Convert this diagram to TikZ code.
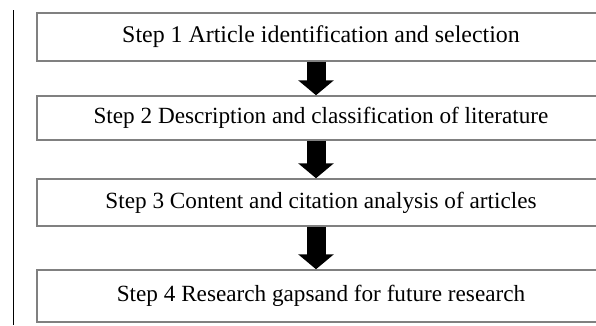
\documentclass[tikz,border=0pt]{standalone}
\usepackage{fontspec}
\setmainfont{Liberation Serif}
\usetikzlibrary{arrows.meta}

\tikzset{
  stepbox/.style={draw=black!50, line width=1.5pt, minimum width=568pt, inner sep=0pt,
    font=\fontsize{23.2}{26}\selectfont},
  downarrow/.style={line width=19pt, -{Triangle[length=15pt,width=35pt]}}
}

\begin{document}
\begin{tikzpicture}[x=1pt,y=1pt]
\useasboundingbox (0,0) rectangle (596,-325);
\clip (0,0) rectangle (596,-325);
\draw[line width=1pt] (13,-10) -- (13,-325);
\node[stepbox, minimum height=48pt, font=\fontsize{23.9}{27}\selectfont] (s1) at (321,-37) {Step 1 Article identification and selection};
\node[stepbox, minimum height=44pt] (s2) at (321,-118) {Step 2 Description and classification of literature};
\node[stepbox, minimum height=47pt] (s3) at (321,-202.5) {Step 3 Content and citation analysis of articles};
\node[stepbox, minimum height=52pt] (s4) at (321,-296) {Step 4 Research gapsand for future research};
\draw[downarrow] ([xshift=-5pt]s1.south) -- ([xshift=-5pt]s2.north);
\draw[downarrow] ([xshift=-5pt]s2.south) -- ([xshift=-5pt]s3.north);
\draw[downarrow] ([xshift=-5pt]s3.south) -- ([xshift=-5pt]s4.north);
\end{tikzpicture}
\end{document}
